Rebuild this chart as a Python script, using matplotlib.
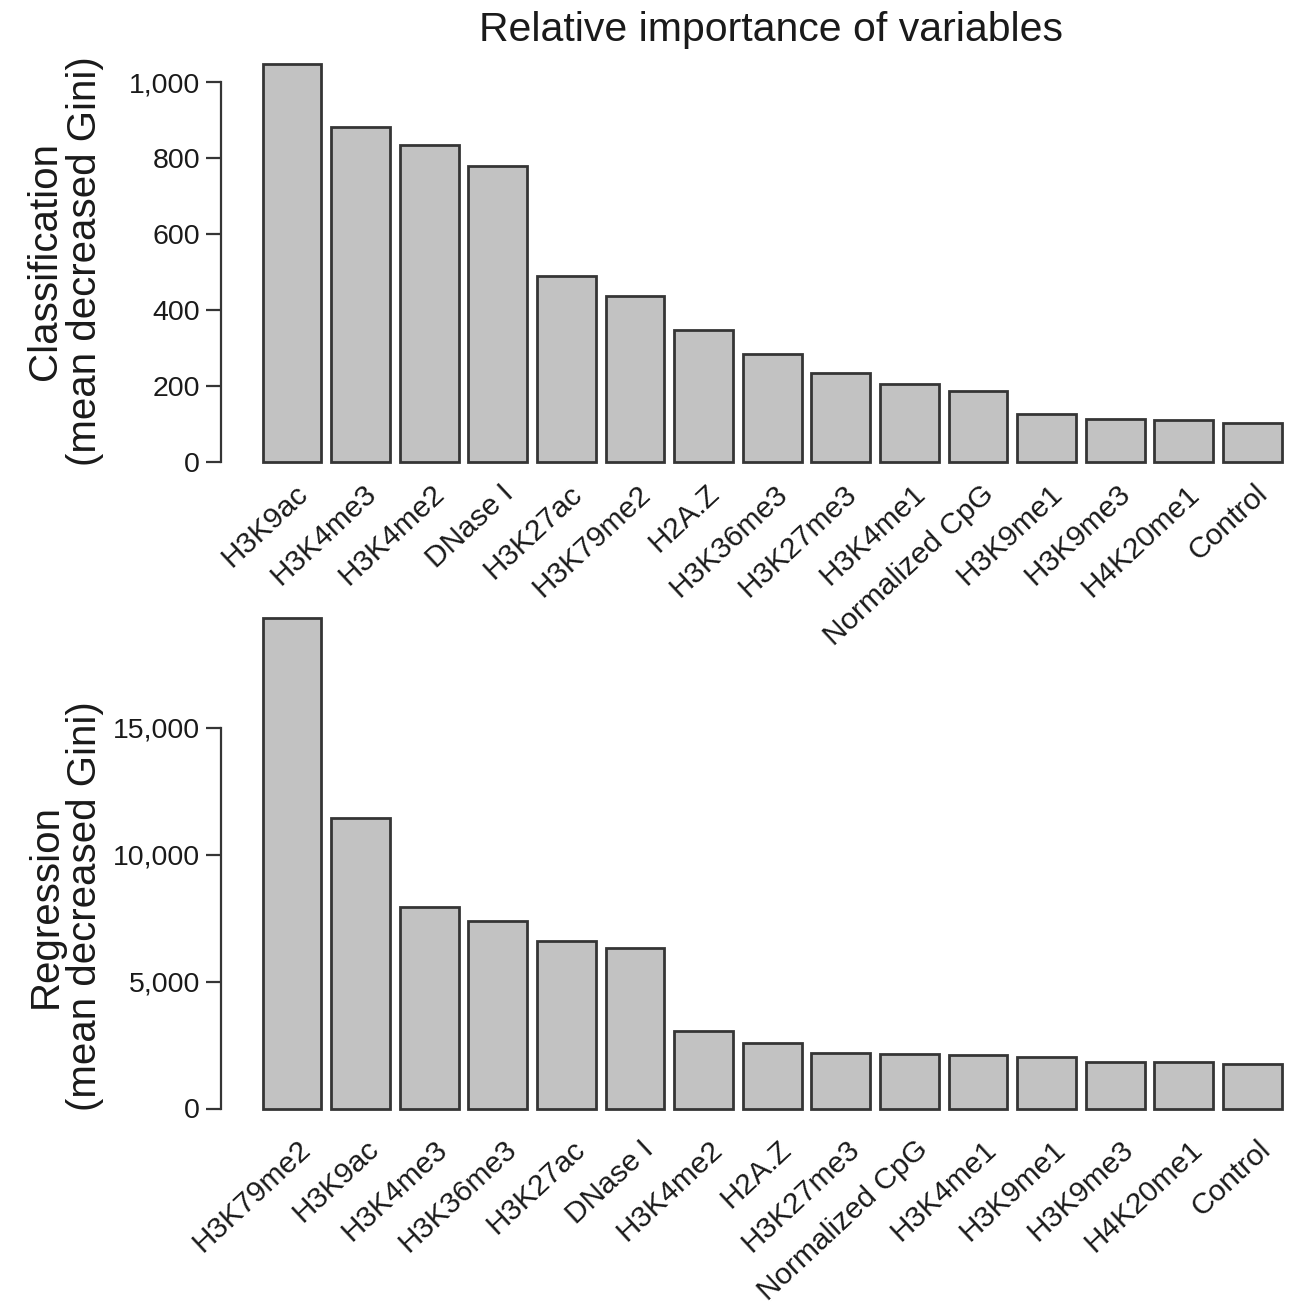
import matplotlib
matplotlib.use("Agg")
import matplotlib.pyplot as plt
import matplotlib.transforms as mtransforms
import numpy as np

plt.rcParams['font.family'] = ['Liberation Sans', 'DejaVu Sans']

title = "Relative importance of variables"

cls_labels = ["H3K9ac", "H3K4me3", "H3K4me2", "DNase I", "H3K27ac", "H3K79me2", "H2A.Z",
              "H3K36me3", "H3K27me3", "H3K4me1", "Normalized CpG", "H3K9me1", "H3K9me3",
              "H4K20me1", "Control"]
cls_values = [1047, 881, 834, 779, 489, 436, 347, 283, 233, 204, 186, 125, 112, 109, 101]
cls_yticks = [0, 200, 400, 600, 800, 1000]
cls_ylabel = "Classification\n(mean decreased Gini)"

reg_labels = ["H3K79me2", "H3K9ac", "H3K4me3", "H3K36me3", "H3K27ac", "DNase I", "H3K4me2",
              "H2A.Z", "H3K27me3", "Normalized CpG", "H3K4me1", "H3K9me1", "H3K9me3",
              "H4K20me1", "Control"]
reg_values = [19330, 11420, 7950, 7400, 6610, 6300, 3070, 2560, 2200, 2130, 2090, 2010, 1850,
              1850, 1770]
reg_yticks = [0, 5000, 10000, 15000]
reg_ylabel = "Regression\n(mean decreased Gini)"

W, H = 1298, 1310
fig = plt.figure(figsize=(W / 100, H / 100), dpi=100)

FILL = '#c2c2c2'
EDGE = '#353535'
TXT = '#1a1a1a'
FS = 20.5
XFS = 21.5

spacing_px = 68.6
first_center_px = 292
ax_left_px = 221
ax_right_px = 1292


def make_panel(top_px, zero_px, per_px, labels, values, yticks, ylabel, label_center_y,
               xpad, xshift, z):
    bottom = 1 - zero_px / H
    height = (zero_px - top_px) / H
    left = ax_left_px / W
    width = (ax_right_px - ax_left_px) / W
    ax = fig.add_axes([left, bottom, width, height])
    ax.set_zorder(z)
    ax.patch.set_visible(False)
    x = np.arange(len(values))
    xl = -(first_center_px - ax_left_px) / spacing_px
    xr = (ax_right_px - first_center_px) / spacing_px
    ax.set_xlim(xl, xr)
    ax.set_ylim(0, (zero_px - top_px) * per_px)
    ax.bar(x, values, width=0.86, color=FILL, edgecolor=EDGE, linewidth=2.0, clip_on=False)
    for s in ['top', 'right', 'bottom']:
        ax.spines[s].set_visible(False)
    ax.spines['left'].set_bounds(yticks[0], yticks[-1])
    ax.spines['left'].set_color(EDGE)
    ax.spines['left'].set_linewidth(1.6)
    ax.set_yticks(yticks)
    ax.set_yticklabels([f"{v:,}" for v in yticks], fontsize=FS, color=TXT)
    ax.tick_params(axis='y', length=11, width=1.6, color=EDGE, pad=4)
    ax.set_xticks(x)
    ax.set_xticklabels(labels, rotation=43, ha='right', rotation_mode='anchor',
                       fontsize=XFS, color=TXT)
    ax.tick_params(axis='x', length=0, pad=xpad)
    offset = mtransforms.ScaledTranslation(xshift / 100, 0, fig.dpi_scale_trans)
    for lab in ax.get_xticklabels():
        lab.set_transform(lab.get_transform() + offset)
    fig.text(65 / W, 1 - label_center_y / H, ylabel, rotation=90, ha='center', va='center',
             multialignment='center', fontsize=29, color=TXT, linespacing=1.05)
    return ax


ax1 = make_panel(50, 461.5, 1000 / 379.5, cls_labels, cls_values, cls_yticks, cls_ylabel, 261,
                 13, 2, 2)
ax2 = make_panel(600, 1108.5, 5000 / 127.0, reg_labels, reg_values, reg_yticks, reg_ylabel, 906,
                 19, 5, 1)

fig.text(771 / W, 1 - 30 / H, title, ha='center', va='center', fontsize=29.5, color=TXT)

fig.savefig("out.png", dpi=100, facecolor='white')
